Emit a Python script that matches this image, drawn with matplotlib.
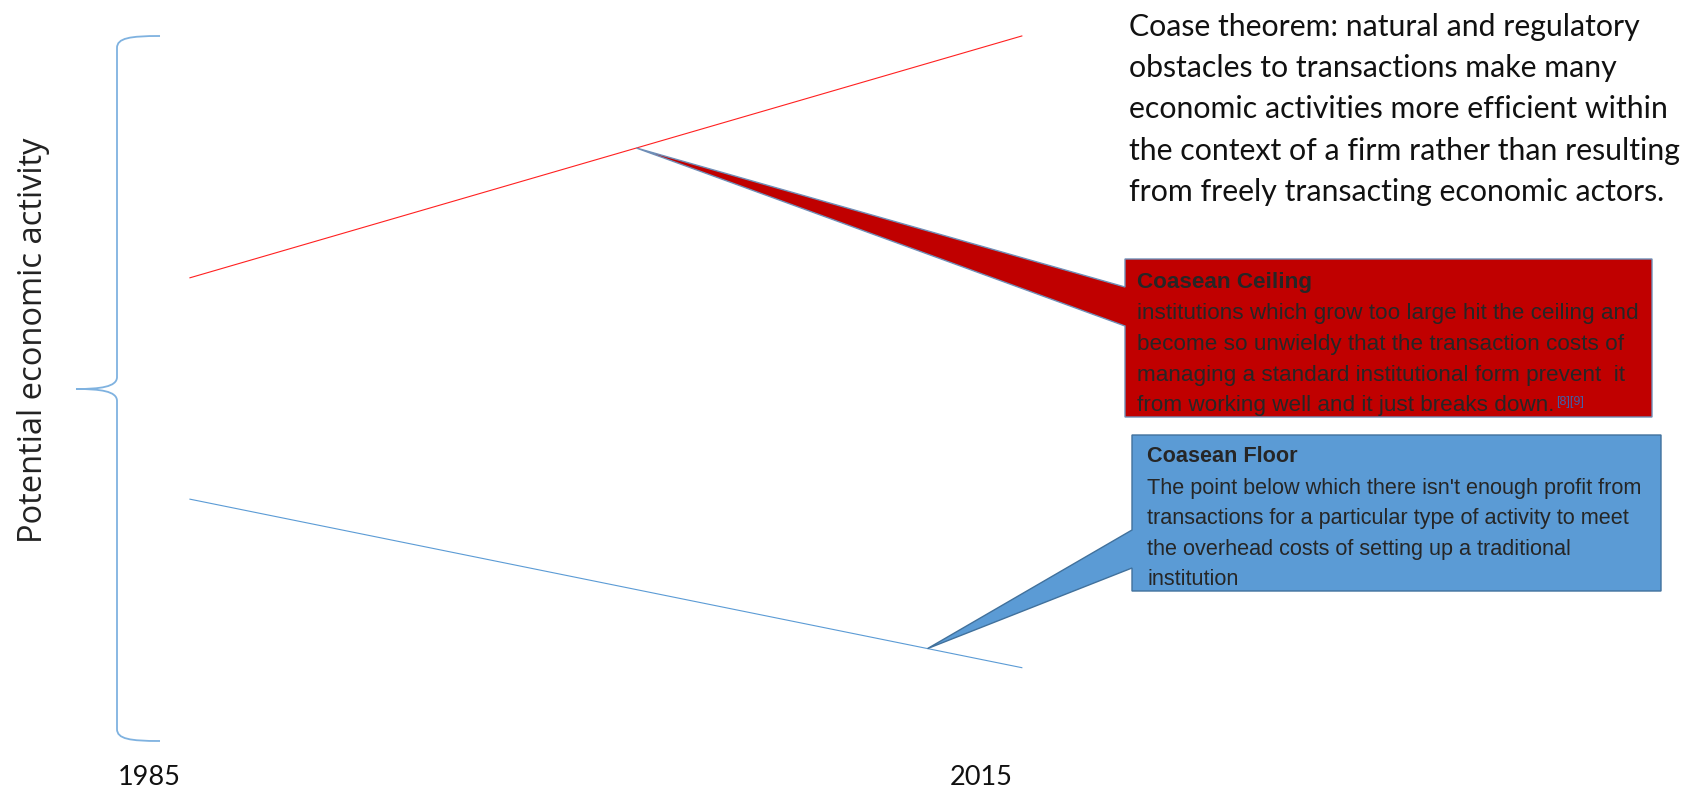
import numpy as np
import matplotlib.pyplot as plt
from matplotlib.patches import Polygon
from matplotlib.path import Path
from matplotlib.patches import PathPatch

# data
years = [1985, 2015]
ceiling = [65.7, 100.0]   # coasean ceiling, potential economic activity
floor_ = [34.3, 10.4]     # coasean floor
callout_years = [2001.1, 2011.6]

ylabel = "Potential economic activity"
coase_lines = ["Coase theorem: natural and regulatory",
               "obstacles to transactions make many",
               "economic activities more efficient within",
               "the context of a firm rather than resulting",
               "from freely transacting economic actors."]
ceiling_title = "Coasean Ceiling"
ceiling_lines = ["institutions which grow too large hit the ceiling and",
                 "become so unwieldy that the transaction costs of",
                 "managing a standard institutional form prevent  it",
                 "from working well and it just breaks down."]
floor_title = "Coasean Floor"
floor_lines = ["The point below which there isn't enough profit from",
               "transactions for a particular type of activity to meet",
               "the overhead costs of setting up a traditional",
               "institution"]

W, H = 1694, 790

def fx(x):
    return x / W

def fy(y):
    return 1 - y / H

fig = plt.figure(figsize=(W / 100, H / 100), dpi=100)
ax = fig.add_axes([0, 0, 1, 1])
ax.set_xlim(1978.15, 2039.24)
ax.set_ylim(-6.95, 105.1)
ax.axis('off')

ax.plot(years, ceiling, color='#FF2020', lw=0.8)
ax.plot(years, floor_, color='#5B9BD5', lw=0.8)

# brace on the left
verts = [(160, 36), (130, 36), (117, 38), (117, 48),
         (117, 377),
         (117, 387), (100, 389), (76, 389),
         (100, 389), (117, 391), (117, 401),
         (117, 729),
         (117, 739), (130, 741), (160, 741)]
codes = [Path.MOVETO, Path.CURVE4, Path.CURVE4, Path.CURVE4,
         Path.LINETO,
         Path.CURVE4, Path.CURVE4, Path.CURVE4,
         Path.CURVE4, Path.CURVE4, Path.CURVE4,
         Path.LINETO,
         Path.CURVE4, Path.CURVE4, Path.CURVE4]
brace = Path([(fx(x), fy(y)) for x, y in verts], codes)
ax.add_patch(PathPatch(brace, transform=fig.transFigure, fill=False,
                       edgecolor='#7FB2E0', lw=1.3))

fig.text(fx(33), fy(340), ylabel, rotation=90, ha='center', va='center',
         fontsize=23.5, family='Open Sans', color='#222222')

for yr in years:
    ax.annotate(str(yr), (yr, 0), xytext=(-41, -37), textcoords='offset pixels',
                ha='center', va='center', fontsize=19.5, family='Lato',
                color='#111111')

# Coase theorem text
for i, line in enumerate(coase_lines):
    fig.text(fx(1129), fy(36 + 41.2 * i), line, ha='left', va='baseline',
             fontsize=21.8, family='Lato', color='#111111')

def tip_fig(yr, series):
    val = np.interp(yr, years, series)
    disp = ax.transData.transform((yr, val))
    return fig.transFigure.inverted().transform(disp)

def callout(box, wedge, tip, face, edge):
    L, T, R, B = box
    w1, w2 = wedge
    pts = [(fx(L), fy(T)), (fx(R), fy(T)), (fx(R), fy(B)), (fx(L), fy(B)),
           (fx(L), fy(w2)), tuple(tip), (fx(L), fy(w1))]
    ax.add_patch(Polygon(pts, closed=True, transform=fig.transFigure,
                         facecolor=face, edgecolor=edge, lw=1.0, zorder=3))

callout((1125, 259, 1652, 417), (287, 326), tip_fig(callout_years[0], ceiling),
        '#C00000', '#6F8FB8')
callout((1132, 435, 1661, 591), (530, 568), tip_fig(callout_years[1], floor_),
        '#5B9BD5', '#41719C')

txt_font = 'Liberation Sans'
fig.text(fx(1137), fy(288), ceiling_title, fontsize=16.2, weight='bold',
         family=txt_font, color='#262626', va='baseline')
for i, line in enumerate(ceiling_lines):
    t = fig.text(fx(1137), fy(319.5 + 30.6 * i), line, fontsize=16.2,
                 family=txt_font, color='#262626', va='baseline')
ax.annotate("[8][9]", xy=(1, 1), xycoords=t,
            xytext=(2, -1), textcoords='offset pixels',
            fontsize=9, family=txt_font, color='#4060A8',
            va='top', ha='left', zorder=6)

fig.text(fx(1147), fy(462), floor_title, fontsize=15.6, weight='bold',
         family=txt_font, color='#262626', va='baseline')
for i, line in enumerate(floor_lines):
    fig.text(fx(1147), fy(494 + 30.3 * i), line, fontsize=15.6,
             family=txt_font, color='#262626', va='baseline')

fig.savefig('out.png', dpi=100)
